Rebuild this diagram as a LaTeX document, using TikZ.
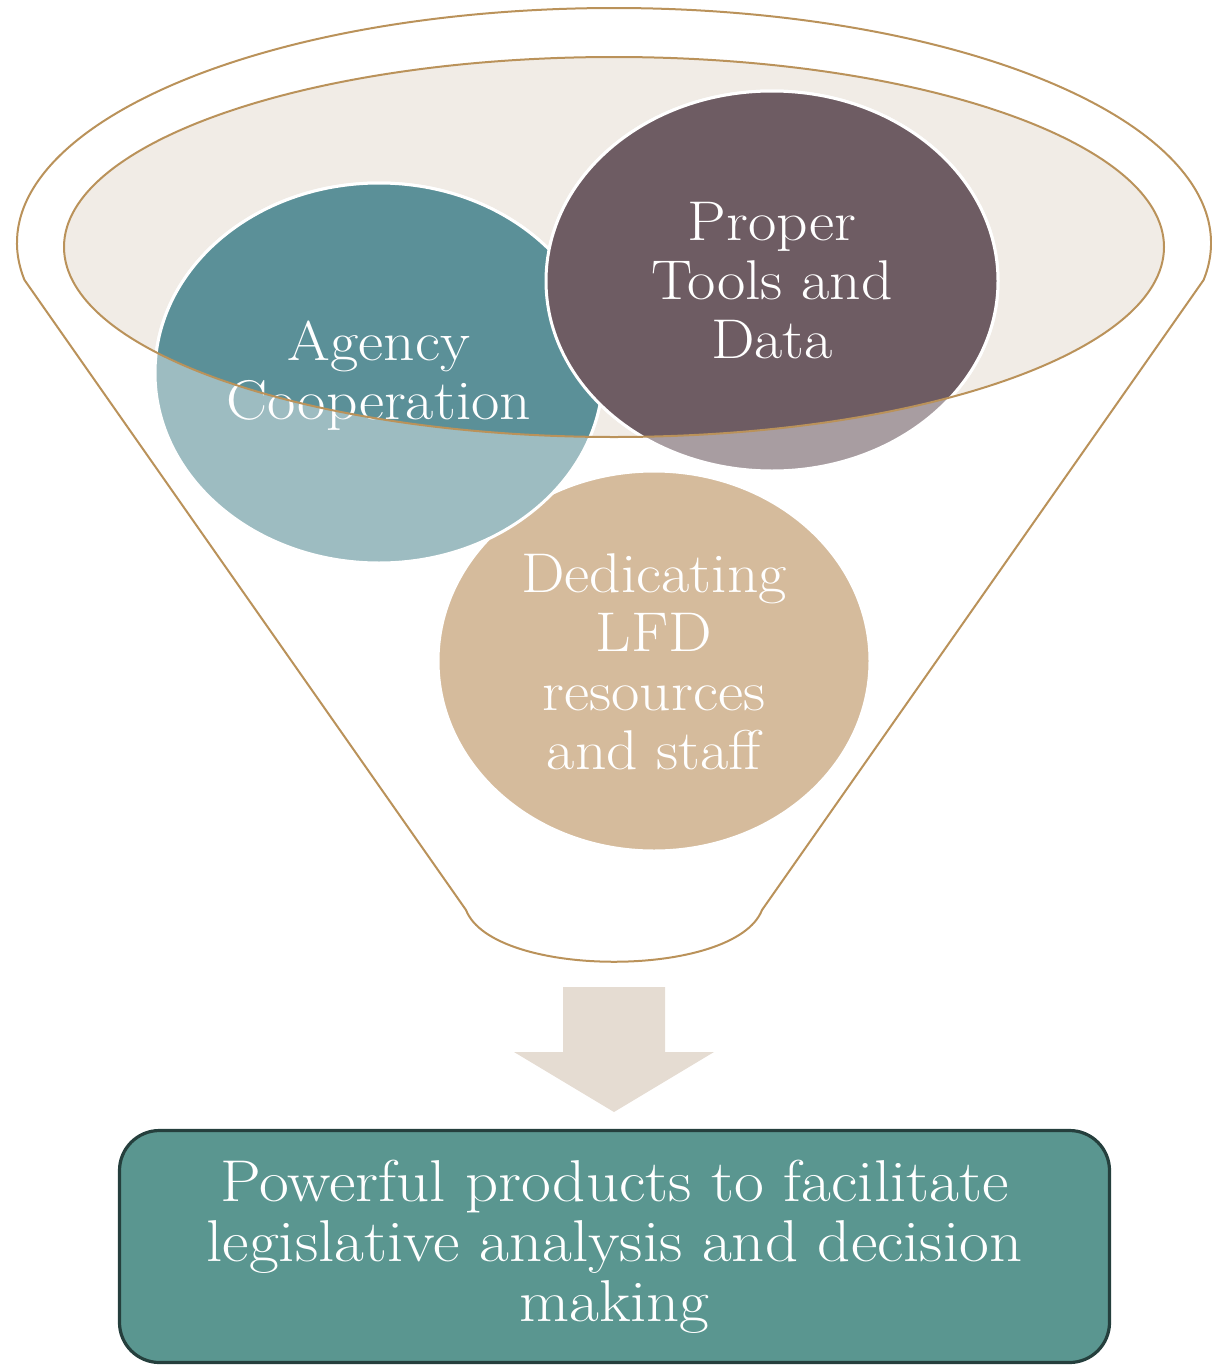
\documentclass[tikz,border=0pt]{standalone}
\usepackage{fontspec}
\setmainfont{Latin Modern Roman}[FakeStretch=1.1]
\usetikzlibrary{shapes.geometric}
\definecolor{rim}{HTML}{BA925A}
\definecolor{mouth}{HTML}{F1ECE6}
\definecolor{tealc}{HTML}{5B9098}
\definecolor{mauve}{HTML}{6E5C63}
\definecolor{sand}{HTML}{D5BB9C}
\definecolor{arrowc}{HTML}{E5DCD2}
\definecolor{boxfill}{HTML}{5A9690}
\definecolor{boxline}{HTML}{253F3D}
\begin{document}
\begin{tikzpicture}[x=0.5pt,y=-0.5pt,
  bubble/.style={line width=1.5pt, draw=white},
  bubbletext/.style={text=white, align=center, inner sep=0pt,
    font=\fontsize{28}{29.5}\selectfont},
  boxtext/.style={text=white, align=center, inner sep=0pt,
    font=\fontsize{29.5}{30}\selectfont},
  funnelline/.style={draw=rim, line width=1pt}]
\useasboundingbox (0,0) rectangle (1211,1365);

% funnel body: upper rim, straight walls and rounded spout
\draw[funnelline] (24.5,280)
  arc[start angle=170.94, end angle=369.06, x radius=597, y radius=235]
  -- (762,910) .. controls (735,979) and (493,979) .. (466,910) -- cycle;

% funnel mouth
\fill[mouth] (614,247) ellipse [x radius=550, y radius=190];

% bubbles, pale where they hang below the mouth
\path[bubble, fill=sand] (654,661) ellipse [x radius=216, y radius=190];
\path[bubble, fill=tealc!60!white] (379,373) ellipse [x radius=224, y radius=190];
\path[bubble, fill=mauve!60!white] (772,281) ellipse [x radius=226, y radius=190];
\begin{scope}
  \clip (614,247) ellipse [x radius=550, y radius=190];
  \path[bubble, fill=tealc] (379,373) ellipse [x radius=224, y radius=190];
  \path[bubble, fill=mauve] (772,281) ellipse [x radius=226, y radius=190];
\end{scope}

\node[bubbletext] (agency) at (379,376) {Agency\\Cooperation};
\node[bubbletext] (tools) at (772,281) {Proper\\Tools and\\Data};
\node[bubbletext] (staff) at (654,662) {Dedicating\\LFD\\resources\\and staff};

% rim of the mouth on top
\draw[funnelline] (614,247) ellipse [x radius=550, y radius=190];

% block arrow out of the spout
\fill[arrowc] (563,987) -- (665,987) -- (665,1052) -- (714,1052)
  -- (614,1112) -- (514,1052) -- (563,1052) -- cycle;

% result box
\node[draw=boxline, fill=boxfill, line width=1.6pt, rounded corners=20pt,
  minimum width=495pt, minimum height=116pt, boxtext]
  (result) at (614.5,1246.5)
  {Powerful products to facilitate\\legislative analysis and decision\\making};
\end{tikzpicture}
\end{document}
